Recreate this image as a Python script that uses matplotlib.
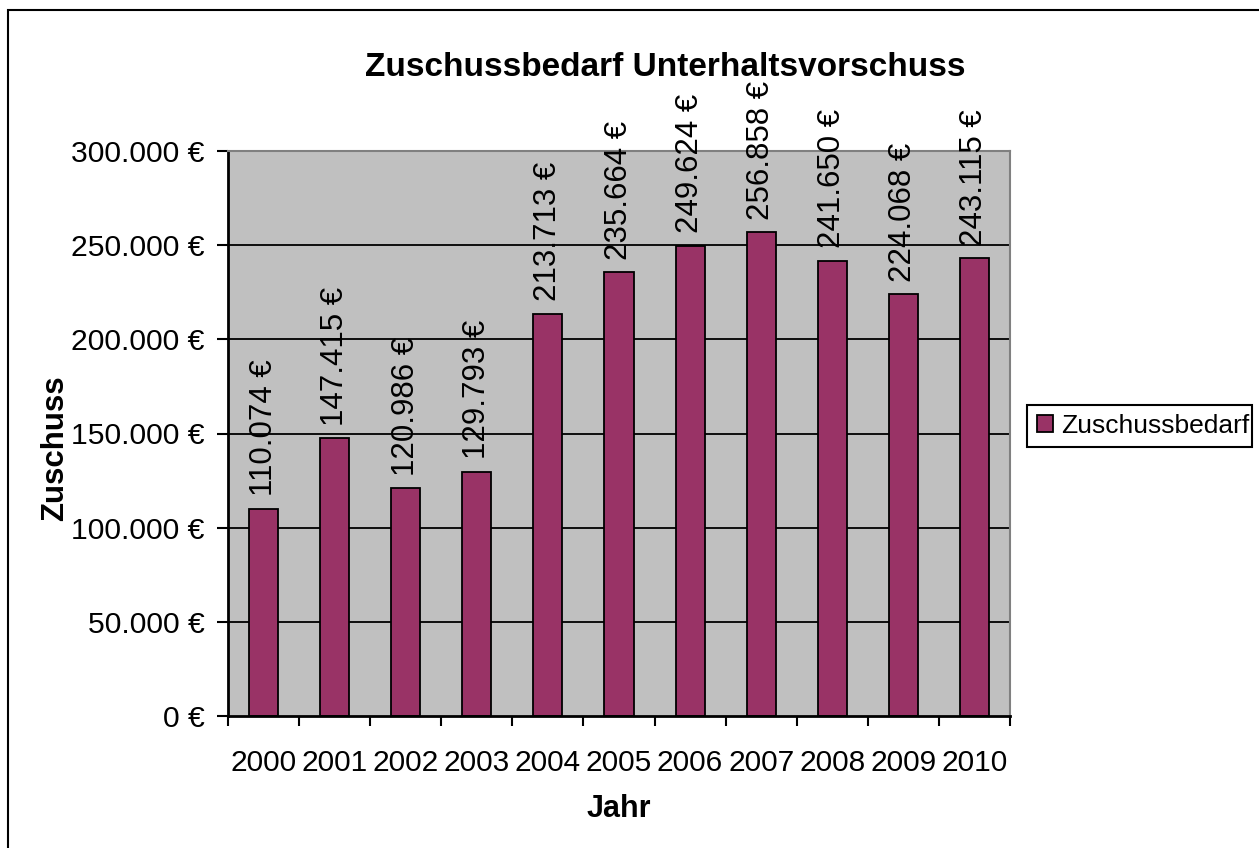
import matplotlib.pyplot as plt
from matplotlib.patches import Rectangle

plt.rcParams['font.family'] = ['Liberation Sans', 'DejaVu Sans']

years = ['2000', '2001', '2002', '2003', '2004', '2005',
         '2006', '2007', '2008', '2009', '2010']
zuschuss = [110074, 147415, 120986, 129793, 213713, 235664,
            249624, 256858, 241650, 224068, 243115]
y_ticks = [0, 50000, 100000, 150000, 200000, 250000, 300000]

bar_color = '#993366'
area_color = '#C0C0C0'
W, H = 1259, 848


def euro(v):
    # German thousands separator, euro sign after the number
    return '{:,}'.format(int(v)).replace(',', '.') + ' €'


fig = plt.figure(figsize=(W / 100, H / 100), dpi=100)
# chart border (runs off the right and bottom edges)
fig.patches.append(Rectangle((8 / W, -0.05), 1.2, 1 - 10 / H + 0.05,
                             transform=fig.transFigure, fill=False,
                             edgecolor='black', linewidth=1.5))

ax = fig.add_axes([228 / W, 1 - 716 / H, 782 / W, 565 / H])
ax.set_facecolor(area_color)

x = list(range(len(years)))
ax.set_xlim(-0.5, len(years) - 0.5)
ax.set_ylim(0, 300000)

for yv in y_ticks[1:-1]:
    ax.axhline(yv, color='black', linewidth=1.3, zorder=1)

bars = ax.bar(x, zuschuss, width=0.41, color=bar_color, edgecolor='black',
              linewidth=1.3, zorder=2, label='Zuschussbedarf')

for xi, v in zip(x, zuschuss):
    ax.annotate(euro(v), (xi, v), xytext=(0, 9), textcoords='offset points',
                rotation=90, ha='center', va='bottom', fontsize=22.5,
                annotation_clip=False)

# y axis
ax.set_yticks(y_ticks)
ax.set_yticklabels([euro(v) for v in y_ticks])
ax.tick_params(axis='y', direction='out', length=8, width=1.5, pad=9,
               labelsize=21.7)

# x axis: ticks on category borders, labels in the middle
ax.set_xticks([i - 0.5 for i in range(len(years) + 1)])
ax.set_xticklabels([])
ax.set_xticks(x, minor=True)
ax.set_xticklabels(years, minor=True)
ax.tick_params(axis='x', which='major', direction='out', length=7, width=1.5)
ax.tick_params(axis='x', which='minor', length=0, pad=24, labelsize=21.5)

for side in ['left', 'bottom']:
    ax.spines[side].set_color('black')
    ax.spines[side].set_linewidth(2)
for side in ['top', 'right']:
    ax.spines[side].set_color('#808080')
    ax.spines[side].set_linewidth(1.5)

ax.set_xlabel('Jahr', fontsize=22, fontweight='bold', labelpad=12)
ax.set_ylabel('Zuschuss', fontsize=22.5, fontweight='bold')
ax.yaxis.set_label_coords((70 - 228) / 782, (716 - 448) / 565)

fig.text(665 / W, 1 - 67 / H, 'Zuschussbedarf Unterhaltsvorschuss',
         ha='center', va='center', fontsize=24, fontweight='bold')

# legend frame drawn by hand so it hugs the label tightly
leg_box = Rectangle((1027 / W, 1 - 447 / H), 225 / W, 42 / H,
                    transform=fig.transFigure, facecolor='white',
                    edgecolor='black', linewidth=1.5, zorder=4)
fig.patches.append(leg_box)
leg = fig.legend(handles=[bars], loc='center left',
                 bbox_to_anchor=(1037 / W, 1 - 426 / H),
                 fontsize=19, frameon=False,
                 handlelength=0.6, handleheight=0.6, handletextpad=0.3,
                 borderpad=0, borderaxespad=0)
leg.set_zorder(5)

plt.savefig('out.png', dpi=100)
